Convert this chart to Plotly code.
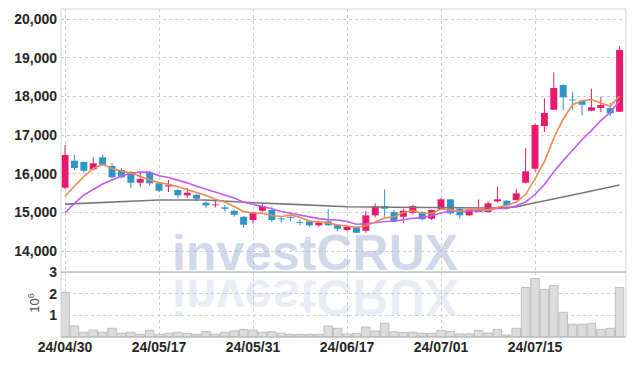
import pandas as pd
import plotly.graph_objects as go
from plotly.subplots import make_subplots

dates = ["24/04/30", "24/05/02", "24/05/03", "24/05/07", "24/05/08", "24/05/09", "24/05/10", "24/05/13", "24/05/14", "24/05/16",
         "24/05/17", "24/05/20", "24/05/21", "24/05/22", "24/05/23", "24/05/24", "24/05/27", "24/05/28", "24/05/29", "24/05/30",
         "24/05/31", "24/06/03", "24/06/04", "24/06/05", "24/06/07", "24/06/10", "24/06/11", "24/06/12", "24/06/13", "24/06/14",
         "24/06/17", "24/06/18", "24/06/19", "24/06/20", "24/06/21", "24/06/24", "24/06/25", "24/06/26", "24/06/27", "24/06/28",
         "24/07/01", "24/07/02", "24/07/03", "24/07/04", "24/07/05", "24/07/08", "24/07/09", "24/07/10", "24/07/11", "24/07/12",
         "24/07/15", "24/07/16", "24/07/17", "24/07/18", "24/07/19", "24/07/22", "24/07/23", "24/07/24", "24/07/25", "24/07/26"]

open_ = [15638, 16338, 16304, 16115, 16426, 16201, 16097, 16045, 15768, 16037,
         15752, 15670, 15579, 15442, 15457, 15250, 15183, 15131, 15043, 14887,
         14802, 15043, 15061, 14845, 14870, 14745, 14768, 14665, 14768, 14680,
         14543, 14613, 14525, 14924, 15164, 15009, 14887, 14991, 15009, 14836,
         15075, 15338, 15095, 14924, 15027, 15009, 15286, 15302, 15320, 15768,
         16131, 17236, 17659, 18298, 17920, 17892, 17633, 17703, 17703, 17607]
high = [16744, 16493, 16320, 16426, 16493, 16270, 16149, 16070, 16027, 16079,
        15780, 15838, 15600, 15631, 15480, 15320, 15320, 15198, 15060, 14900,
        15020, 15216, 15146, 14906, 14940, 14820, 14790, 14768, 15095, 14700,
        14680, 14630, 15043, 15234, 15597, 15061, 15095, 15200, 15030, 15070,
        15372, 15350, 15110, 15095, 15338, 15286, 15664, 15320, 15597, 16667,
        17300, 17954, 18627, 18324, 18125, 17900, 18203, 17995, 17840, 19308]
low = [15600, 16097, 16011, 16100, 16200, 15880, 15880, 15623, 15664, 15690,
       15530, 15527, 15372, 15372, 15286, 15113, 15131, 15027, 14887, 14613,
       14716, 15009, 14750, 14733, 14768, 14665, 14613, 14630, 14650, 14509,
       14509, 14460, 14473, 14872, 14887, 14750, 14716, 14940, 14800, 14802,
       15060, 14940, 14836, 14910, 15010, 15000, 15250, 15170, 15310, 15750,
       16063, 17081, 17650, 17643, 17651, 17514, 17620, 17599, 17495, 17600]
close = [16485, 16149, 16079, 16270, 16234, 15908, 15908, 15768, 15864, 15752,
         15561, 15700, 15442, 15509, 15354, 15183, 15199, 15094, 14939, 14680,
         15009, 15164, 14802, 14820, 14855, 14725, 14665, 14733, 14665, 14577,
         14628, 14473, 14924, 15164, 15095, 14768, 15043, 15164, 14820, 15061,
         15338, 14975, 14924, 15079, 15079, 15234, 15338, 15183, 15493, 16063,
         17262, 17573, 18221, 17980, 17900, 17788, 17721, 17780, 17565, 19205]

# volume in millions of shares
volume = [2.06, 0.51, 0.22, 0.32, 0.22, 0.40, 0.17, 0.22, 0.12, 0.31,
          0.12, 0.17, 0.22, 0.17, 0.12, 0.25, 0.13, 0.22, 0.28, 0.35,
          0.32, 0.22, 0.24, 0.17, 0.12, 0.12, 0.12, 0.12, 0.51, 0.40,
          0.14, 0.17, 0.46, 0.28, 0.63, 0.24, 0.20, 0.22, 0.17, 0.17,
          0.31, 0.26, 0.14, 0.14, 0.31, 0.18, 0.35, 0.09, 0.40, 2.29,
          2.70, 2.20, 2.37, 1.14, 0.59, 0.59, 0.63, 0.35, 0.40, 2.29]

ma5_head = [15417, 15677, 15935, 16135]
ma10_head = [14991, 15235, 15450, 15597, 15734, 15838, 15942, 16011, 16045]
ma_long_idx = [0, 5, 10, 15, 20, 25, 30, 35, 40, 45, 48, 49, 54, 59]
ma_long_val = [15213, 15260, 15320, 15320, 15250, 15200, 15147, 15135, 15131, 15115, 15140, 15200, 15450, 15708]

price_ticks = [14000, 15000, 16000, 17000, 18000, 19000, 20000]
vol_ticks = [1, 2, 3]
x_ticks = dates[::10]

s = pd.Series(close, dtype=float)
ma5 = s.rolling(5).mean().tolist()
ma10 = s.rolling(10).mean().tolist()
ma5[:len(ma5_head)] = ma5_head
ma10[:len(ma10_head)] = ma10_head

RED = "#E8196B"
BLUE = "#2E95C8"
GRID = "#c9cbe0"
FONT = dict(family="Liberation Sans, Arial, sans-serif", size=14, color="#262626", weight="bold")

fig = make_subplots(rows=2, cols=1, shared_xaxes=True, vertical_spacing=0, row_heights=[0.802, 0.198])

# candles: wicks as line segments, bodies as floating bars
for up, col in ((True, RED), (False, BLUE)):
    idx = [i for i in range(len(dates)) if (close[i] >= open_[i]) == up]
    wx, wy = [], []
    for i in idx:
        wx += [dates[i], dates[i], None]
        wy += [low[i], high[i], None]
    fig.add_trace(go.Scatter(x=wx, y=wy, mode="lines", line=dict(color=col, width=1),
                             hoverinfo="skip"), row=1, col=1)
    base = [min(open_[i], close[i]) for i in idx]
    hgt = [max(abs(close[i] - open_[i]), 22) for i in idx]
    fig.add_trace(go.Bar(x=[dates[i] for i in idx], y=hgt, base=base, width=0.74,
                         marker=dict(color=col, line=dict(width=0))), row=1, col=1)

fig.add_trace(go.Scatter(x=[dates[i] for i in ma_long_idx], y=ma_long_val, mode="lines",
                         line=dict(color="#787878", width=1.6), hoverinfo="skip"), row=1, col=1)
fig.add_trace(go.Scatter(x=dates, y=ma10, mode="lines",
                         line=dict(color="#C65AF0", width=1.6), hoverinfo="skip"), row=1, col=1)
fig.add_trace(go.Scatter(x=dates, y=ma5, mode="lines",
                         line=dict(color="#F08A4E", width=1.6), hoverinfo="skip"), row=1, col=1)
fig.add_trace(go.Bar(x=dates, y=volume, width=0.9,
                     marker=dict(color="#dcdcdc", line=dict(color="#bdbdbd", width=1))),
              row=2, col=1)

xcommon = dict(type="category", categoryorder="array", categoryarray=dates,
               range=[-0.43, 59.68], showgrid=True, gridcolor=GRID, griddash="dot",
               gridwidth=1, tickmode="array", tickvals=x_ticks, ticktext=x_ticks, ticks="",
               tickangle=0, zeroline=False, showline=False, automargin=False)
fig.update_xaxes(**xcommon)
fig.update_xaxes(showticklabels=False, row=1, col=1)
fig.update_xaxes(showticklabels=True, tickfont=FONT, row=2, col=1)

fig.update_yaxes(range=[13455, 20267], tickmode="array", tickvals=price_ticks, tickformat=",d",
                 showgrid=True, gridcolor=GRID, griddash="dot", zeroline=False, ticks="",
                 tickfont=FONT, automargin=False, ticklabelstandoff=3, row=1, col=1)
fig.update_yaxes(range=[0, 3], tickmode="array", tickvals=vol_ticks, showgrid=True, gridcolor=GRID,
                 griddash="dot", zeroline=False, ticks="", tickfont=FONT, automargin=False,
                 ticklabelstandoff=3, row=2, col=1)

vol_top = 0.198
fig.add_shape(type="rect", xref="paper", yref="paper", x0=0, x1=1, y0=0, y1=1,
              line=dict(color="#d4d4d4", width=1), layer="above")
fig.add_shape(type="line", xref="paper", yref="paper", x0=0, x1=1, y0=vol_top, y1=vol_top,
              line=dict(color="#9a9a9a", width=1), layer="above")
fig.add_shape(type="line", xref="paper", yref="paper", x0=0, x1=1, y0=0, y1=0,
              line=dict(color="#b0b0b0", width=1), layer="above")

fig.add_annotation(text="10<sup>6</sup>", xref="paper", yref="paper", x=-0.048, y=0.104,
                   xanchor="center", yanchor="middle",
                   showarrow=False, textangle=-90, font=dict(family="Liberation Sans", size=13, color="#555555"))
fig.add_annotation(text="investCRUX", xref="paper", yref="paper", x=0.449, y=0.257, yanchor="middle",
                   showarrow=False, font=dict(family="Liberation Sans", size=50, color="rgba(165,177,212,0.5)", weight="bold"))
fig.add_annotation(text="investCRUX", xref="paper", yref="paper", x=0.449, y=0.123, yanchor="middle",
                   showarrow=False, font=dict(family="Liberation Sans", size=50, color="rgba(180,190,222,0.28)", weight="bold"))

fig.update_layout(width=634, height=366, margin=dict(l=61, r=8, t=9, b=29),
                  paper_bgcolor="white", plot_bgcolor="white", showlegend=False,
                  barmode="overlay", bargap=0.08, hovermode=False)

post = """
document.body.style.margin = '0';
document.body.style.padding = '0';
var gd = document.getElementById('{plot_id}');
function flipRefl(){
  var a = gd.querySelector('.annotation[data-index="2"] text.annotation-text');
  if(!a) return;
  var b = a.getBBox();
  var cy = b.y + b.height/2;
  a.setAttribute('transform', 'matrix(1,0,0,-1,0,' + (2*cy) + ')');
}
flipRefl();
"""
fig.write_html("out.html", post_script=post, config={"displayModeBar": False, "staticPlot": True})
